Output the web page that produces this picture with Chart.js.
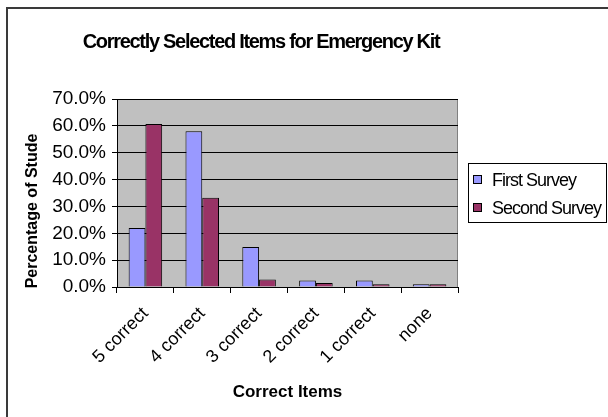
<!DOCTYPE html>
<html>
<head>
<meta charset="utf-8">
<script src="https://cdn.jsdelivr.net/npm/chart.js@4/dist/chart.umd.min.js"></script>
<style>
  html, body { margin: 0; padding: 0; background: #fff; overflow: hidden; }
  #wrap { position: relative; width: 608px; height: 417px; }
  #frame {
    position: absolute; left: 6px; top: 7px; width: 700px; height: 500px;
    border: 2px solid #3a3a3a; box-sizing: border-box;
  }
  canvas { position: absolute; left: 0; top: 0; }
</style>
</head>
<body>
<div id="wrap">
  <div id="frame"></div>
  <canvas id="kitChart" width="608" height="417"></canvas>
</div>
<script>
const chartTitle = "Correctly Selected Items for Emergency Kit";
const yTitle = "Percentage of Stude";
const xTitle = "Correct Items";
const categories = ["5 correct", "4 correct", "3 correct", "2 correct", "1 correct", "none"];
const firstSurvey = [22.0, 58.0, 14.9, 2.4, 2.4, 1.0];
const secondSurvey = [60.7, 33.2, 2.8, 1.5, 1.0, 1.0];
const seriesNames = ["First Survey", "Second Survey"];
const seriesColors = ["#9999FF", "#993366"];

const FONT = "'Liberation Sans', Arial, sans-serif";

// grey plot area + border, custom title, y title and boxed legend
const decor = {
  id: "decor",
  beforeDraw(chart) {
    const { ctx, chartArea: a } = chart;
    ctx.save();
    ctx.fillStyle = "#C0C0C0";
    ctx.fillRect(a.left, a.top, a.right - a.left, a.bottom - a.top);
    ctx.strokeStyle = "#808080";
    ctx.lineWidth = 1;
    ctx.strokeRect(a.left + 0.5, a.top + 0.5, a.right - a.left - 1, a.bottom - a.top);
    ctx.restore();
  },
  afterDraw(chart) {
    const { ctx } = chart;
    ctx.save();
    ctx.fillStyle = "#000";
    // title
    ctx.letterSpacing = "-1.3px";
    ctx.font = "bold 20px " + FONT;
    ctx.textAlign = "center";
    ctx.textBaseline = "alphabetic";
    ctx.fillText(chartTitle, 261, 48);
    // y axis title
    ctx.letterSpacing = "0px";
    ctx.save();
    ctx.translate(33, 211);
    ctx.rotate(-Math.PI / 2);
    ctx.font = "bold 16px " + FONT;
    ctx.textBaseline = "middle";
    ctx.fillText(yTitle, 0, 0);
    ctx.restore();
    // legend
    ctx.fillStyle = "#fff";
    ctx.fillRect(468, 163, 138, 60);
    ctx.strokeStyle = "#000";
    ctx.lineWidth = 1;
    ctx.strokeRect(468.5, 163.5, 138, 59);
    ctx.letterSpacing = "-1px";
    ctx.font = "18px " + FONT;
    ctx.textAlign = "left";
    ctx.textBaseline = "middle";
    chart.data.datasets.forEach((ds, i) => {
      const cy = 180 + i * 28;
      ctx.fillStyle = ds.backgroundColor;
      ctx.fillRect(473.5, cy - 4.5, 8, 8);
      ctx.strokeStyle = "#000";
      ctx.strokeRect(473.5, cy - 4.5, 8, 8);
      ctx.fillStyle = "#000";
      ctx.fillText(ds.label, 492, cy + 1);
    });
    ctx.restore();
  },
};

new Chart(document.getElementById("kitChart"), {
  type: "bar",
  data: {
    labels: categories,
    datasets: [
      {
        label: seriesNames[0],
        data: firstSurvey,
        backgroundColor: seriesColors[0],
        borderColor: "#000",
        borderWidth: 1,
        barPercentage: 1,
        categoryPercentage: 0.59,
      },
      {
        label: seriesNames[1],
        data: secondSurvey,
        backgroundColor: seriesColors[1],
        borderColor: "#000",
        borderWidth: 1,
        barPercentage: 1,
        categoryPercentage: 0.59,
      },
    ],
  },
  options: {
    responsive: false,
    animation: false,
    layout: { padding: { left: 0, top: 99, right: 150, bottom: 12 } },
    plugins: {
      legend: { display: false },
      title: { display: false },
      tooltip: { enabled: false },
    },
    scales: {
      x: {
        afterFit: (scale) => { scale.height = 118; },
        grid: {
          display: true,
          drawOnChartArea: false,
          offset: true,
          tickLength: 6,
          color: "#000",
        },
        border: { color: "#000" },
        ticks: {
          color: "#000",
          font: { family: FONT, size: 18 },
          minRotation: 45,
          maxRotation: 45,
          padding: 10,
        },
        title: {
          display: true,
          text: xTitle,
          color: "#000",
          font: { family: FONT, size: 17, weight: "bold" },
          padding: { top: 4, bottom: 2 },
        },
      },
      y: {
        min: 0,
        max: 70,
        afterFit: (scale) => { scale.width = 117; },
        grid: { color: "#000", tickLength: 5 },
        border: { color: "#000" },
        ticks: {
          stepSize: 10,
          color: "#000",
          font: { family: FONT, size: 19 },
          padding: 6,
          callback: (v) => v.toFixed(1) + "%",
        },
      },
    },
  },
  plugins: [decor],
});
</script>
</body>
</html>
